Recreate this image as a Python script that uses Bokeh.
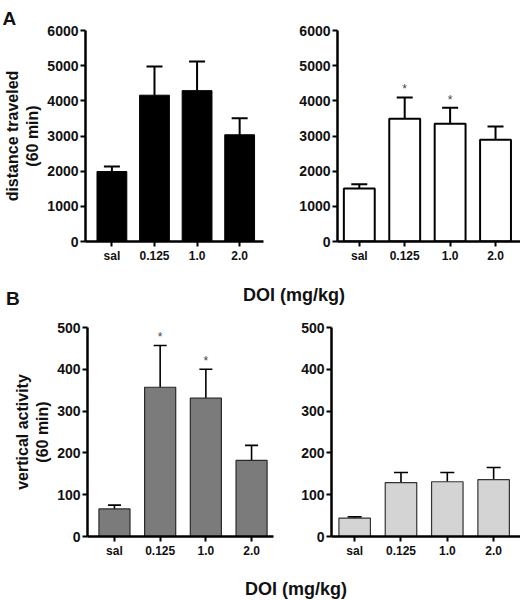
from bokeh.plotting import figure
from bokeh.models import Range1d, Whisker, ColumnDataSource, Div, FixedTicker, TeeHead
from bokeh.layouts import column, row
from bokeh.embed import file_html
from bokeh.resources import INLINE
from bokeh.core.properties import value

# ---------------- data ----------------
doses = ["sal", "0.125", "1.0", "2.0"]

dist_left_mean = [1990, 4160, 4290, 3035]
dist_left_sem = [145, 815, 825, 470]
dist_left_sig = [False, False, False, False]

dist_right_mean = [1510, 3490, 3350, 2895]
dist_right_sem = [120, 605, 455, 375]
dist_right_sig = [False, True, True, False]

vert_left_mean = [66, 357, 331, 182]
vert_left_sem = [9, 100, 69, 36]
vert_left_sig = [False, True, True, False]

vert_right_mean = [44, 129, 131, 136]
vert_right_sem = [3, 24, 22, 29]
vert_right_sig = [False, False, False, False]

dist_ticks = [0, 1000, 2000, 3000, 4000, 5000, 6000]
vert_ticks = [0, 100, 200, 300, 400, 500]

dist_label = "distance traveled\n(60 min)"
vert_label = "vertical activity\n(60 min)"
x_title = "DOI (mg/kg)"

FONT = "Liberation Sans"


def panel(means, sems, sig, ticks, width, height, bl, br, bt, bb,
          xr, bar_w, fill, line_color, line_w, whisk_w, head, ylabel=None):
    xs = list(range(len(doses)))
    p = figure(width=width, height=height, output_backend="svg",
               toolbar_location=None, x_range=Range1d(*xr),
               y_range=Range1d(ticks[0], ticks[-1]))
    p.min_border = 0
    p.min_border_left = bl
    p.min_border_right = br
    p.min_border_top = bt
    p.min_border_bottom = bb
    p.outline_line_color = None
    p.grid.visible = False
    p.background_fill_color = "white"
    p.border_fill_color = "white"

    src = ColumnDataSource(dict(
        x=xs, top=means,
        upper=[m + s for m, s in zip(means, sems)],
    ))
    p.vbar(x="x", top="top", bottom=0, width=bar_w, source=src,
           fill_color=fill, line_color=line_color, line_width=line_w)
    w = Whisker(base="x", upper="upper", lower="top", dimension="height",
                source=src, line_width=whisk_w, line_color="black",
                upper_head=TeeHead(size=head, line_width=whisk_w, line_color="black"),
                lower_head=None)
    p.add_layout(w)

    sx = [x for x, s in zip(xs, sig) if s]
    sy = [m + e for m, e, s in zip(means, sems, sig) if s]
    if sx:
        p.text(x=sx, y=sy, text=["*"] * len(sx), text_align="center",
               text_baseline="bottom", text_font=value(FONT),
               text_font_size="12px", text_color="#444444", y_offset=-1)

    p.xaxis.ticker = FixedTicker(ticks=xs)
    p.xaxis.major_label_overrides = {x: d for x, d in zip(xs, doses)}
    p.yaxis.ticker = FixedTicker(ticks=ticks)
    for ax in (p.xaxis, p.yaxis):
        ax.axis_line_width = 2.5
        ax.axis_line_color = "black"
        ax.major_tick_line_width = 2
        ax.major_tick_line_color = "black"
        ax.major_tick_out = 5
        ax.major_tick_in = 0
        ax.minor_tick_line_color = None
        ax.major_label_text_font = FONT
        ax.major_label_text_font_style = "bold"
        ax.major_label_text_color = "#111111"
        ax.major_label_standoff = 2
    p.xaxis.major_label_text_font_size = "12px"
    p.yaxis.major_label_text_font_size = "14px"
    if ylabel:
        p.yaxis.axis_label = ylabel
        p.yaxis.axis_label_text_font = FONT
        p.yaxis.axis_label_text_font_style = "bold"
        p.yaxis.axis_label_text_font_size = "16px"
        p.yaxis.axis_label_text_color = "#111111"
        p.yaxis.axis_label_standoff = 3
    return p


# top row (distance traveled)
a_left = panel(dist_left_mean, dist_left_sem, dist_left_sig, dist_ticks,
               265, 268, 84, 2, 30, 27, (-0.62, 3.56), 0.70,
               "black", "black", 1, 2, 16, dist_label)
a_left.title.text = "A"
a_left.title.align = "left"
a_left.title.offset = -83
a_left.title.standoff = 4
a_left.title.text_font = FONT
a_left.title.text_font_size = "19px"
a_left.title.text_font_style = "bold"
a_left.title.text_color = "#111111"

a_right = panel(dist_right_mean, dist_right_sem, dist_right_sig, dist_ticks,
                255, 268, 72, 0, 30, 27, (-0.48, 3.55), 0.68,
                "white", "black", 2, 2, 16)

# bottom row (vertical activity)
b_left = panel(vert_left_mean, vert_left_sem, vert_left_sig, vert_ticks,
               274, 250, 87, 1, 17, 23, (-0.59, 3.48), 0.68,
               "#7b7b7b", "#2a2a2a", 1.2, 1.6, 13, vert_label)
b_right = panel(vert_right_mean, vert_right_sem, vert_right_sig, vert_ticks,
                246, 250, 57, 0, 17, 23, (-0.5, 3.58), 0.68,
                "#d4d4d4", "#333333", 1.2, 1.6, 14)

txt_style = ("position:absolute;font-family:'Liberation Sans',Arial,sans-serif;"
             "color:#111111;line-height:1;white-space:nowrap;")
div1 = Div(width=520, height=42, margin=0, text=(
    '<div style="position:relative;width:520px;height:42px;overflow:hidden;">'
    f'<span style="{txt_style}left:6px;top:21px;font-size:19px;font-weight:bold;">B</span>'
    f'<span style="{txt_style}left:243px;top:18px;font-size:18px;font-weight:bold;">{x_title}</span>'
    '</div>'))
div2 = Div(width=520, height=39, margin=0, text=(
    '<div style="position:relative;width:520px;height:39px;overflow:hidden;">'
    f'<span style="{txt_style}left:245px;top:20px;font-size:18px;font-weight:bold;">{x_title}</span>'
    '</div>'))

layout = column(row(a_left, a_right), div1, row(b_left, b_right), div2)

open("out.html", "w").write(file_html(layout, INLINE))
